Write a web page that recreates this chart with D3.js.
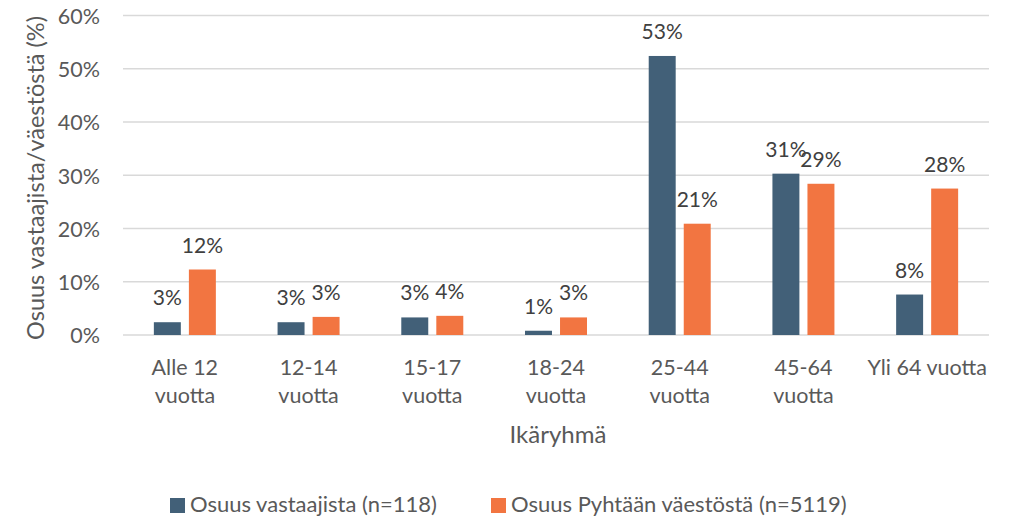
<!DOCTYPE html>
<html><head><meta charset="utf-8">
<script src="https://cdn.jsdelivr.net/npm/d3@7"></script>
<style>
html,body{margin:0;padding:0;background:#fff;}
svg{display:block;font-family:Lato,"Open Sans",sans-serif;}
</style></head>
<body>
<svg id="chart" width="1013" height="519"></svg>
<script>
const categories = [["Alle 12","vuotta"],["12-14","vuotta"],["15-17","vuotta"],["18-24","vuotta"],["25-44","vuotta"],["45-64","vuotta"],["Yli 64 vuotta"]];
const seriesNames = ["Osuus vastaajista (n=118)","Osuus Pyhtään väestöstä (n=5119)"];
const respondents = [2.4, 2.4, 3.3, 0.8, 52.4, 30.3, 7.6];
const population = [12.3, 3.4, 3.6, 3.3, 20.9, 28.4, 27.5];
const respondentLabels = ["3%","3%","3%","1%","53%","31%","8%"];
const populationLabels = ["12%","3%","4%","3%","21%","29%","28%"];
const yTicks = [0,10,20,30,40,50,60];
const colors = ["#426078","#F27541"];

const svg = d3.select("#chart");
const textColor = "#595959";
const plotLeft = 123, plotRight = 989, plotTop = 15.5, plotBottom = 335;

const x = d3.scaleBand().domain(d3.range(categories.length)).range([plotLeft, plotRight]).padding(0);
const x1 = d3.scaleBand().domain([0,1]).range([-31, 31]).paddingInner(0.23).paddingOuter(0);
const y = d3.scaleLinear().domain([0, 60]).range([plotBottom, plotTop]);

svg.append("g").selectAll("line").data(yTicks).join("line")
  .attr("x1", plotLeft).attr("x2", plotRight)
  .attr("y1", d => y(d)).attr("y2", d => y(d))
  .attr("stroke", "#d9d9d9").attr("stroke-width", 1.3);

const yAxis = d3.axisLeft(y).tickValues(yTicks).tickFormat(d => d + "%").tickSize(0).tickPadding(0);
const yg = svg.append("g").attr("transform", `translate(100,0)`).call(yAxis);
yg.select(".domain").remove();
yg.selectAll("text").attr("fill", textColor).attr("font-size", 21.5).attr("font-family", "Lato, sans-serif").attr("dy", "0.36em");

const series = [respondents, population];
const labels = [respondentLabels, populationLabels];
series.forEach((vals, s) => {
  const g = svg.append("g");
  g.selectAll("rect").data(vals).join("rect")
    .attr("x", (d, i) => x(i) + x.bandwidth() / 2 + x1(s))
    .attr("width", x1.bandwidth())
    .attr("y", d => y(d))
    .attr("height", d => y(0) - y(d))
    .attr("fill", colors[s]);
  g.selectAll("text").data(vals).join("text")
    .attr("x", (d, i) => x(i) + x.bandwidth() / 2 + x1(s) + x1.bandwidth() / 2)
    .attr("y", d => y(d) - 17)
    .attr("text-anchor", "middle")
    .attr("font-size", 21)
    .attr("fill", "#404040")
    .text((d, i) => labels[s][i]);
});

const xl = svg.append("g");
categories.forEach((lines, i) => {
  const t = xl.append("text")
    .attr("x", x(i) + x.bandwidth() / 2)
    .attr("y", 375)
    .attr("text-anchor", "middle")
    .attr("font-size", 21.5)
    .attr("fill", textColor);
  lines.forEach((ln, j) => {
    t.append("tspan").attr("x", x(i) + x.bandwidth() / 2).attr("dy", j === 0 ? 0 : 28).text(ln);
  });
});

svg.append("text").attr("x", 558).attr("y", 443).attr("text-anchor", "middle")
  .attr("font-size", 24).attr("fill", textColor).text("Ikäryhmä");
svg.append("text").attr("transform", "translate(44,178) rotate(-90)").attr("text-anchor", "middle")
  .attr("font-size", 23.5).attr("fill", textColor).text("Osuus vastaajista/väestöstä (%)");

const legendX = [170, 491];
seriesNames.forEach((name, s) => {
  svg.append("rect").attr("x", legendX[s]).attr("y", 498).attr("width", 15).attr("height", 15).attr("fill", colors[s]);
  svg.append("text").attr("x", legendX[s] + 20).attr("y", 512).attr("font-size", 22).attr("fill", textColor).text(name);
});
</script>
</body></html>
